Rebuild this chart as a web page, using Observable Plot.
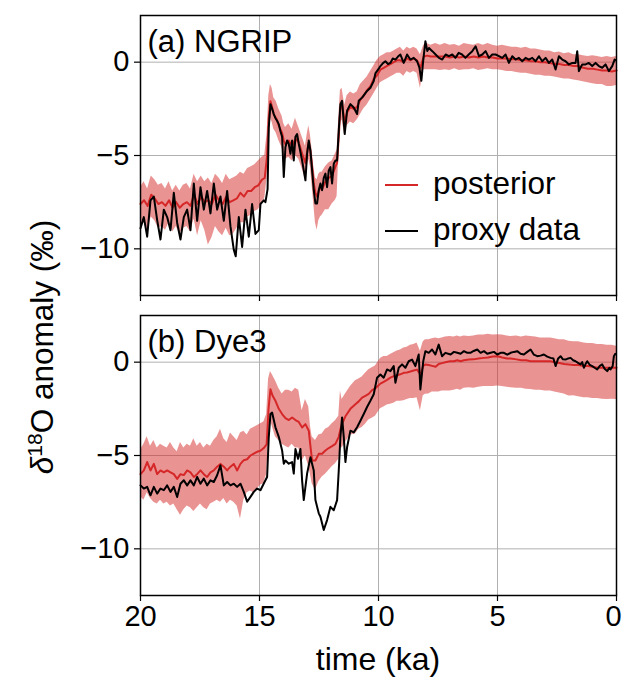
<!DOCTYPE html>
<html><head><meta charset="utf-8">
<script src="https://cdn.jsdelivr.net/npm/d3@7"></script>
<script src="https://cdn.jsdelivr.net/npm/@observablehq/plot@0.6"></script>
<style>
body{margin:0;background:#fff;}
#wrap{position:relative;width:622px;height:681px;font-family:"Liberation Sans",Arial,sans-serif;color:#000;overflow:hidden;}
#a{position:absolute;left:0;top:0}
#b{position:absolute;left:0;top:310px}
.lab{position:absolute;font-size:31.5px;line-height:32px;white-space:nowrap;}
.sw{position:absolute;height:2px;width:33px;}
</style></head><body>
<div id="wrap">
  <div id="a"></div><div id="b"></div>
  <div class="lab" id="ylab" style="left:42px;top:347px;transform:translate(-50%,-50%) rotate(-90deg);"><i>δ</i><sup style="font-size:21px;line-height:0;">18</sup>O anomaly (‰)</div>
  <div class="lab" id="xlab" style="left:378px;top:643px;transform:translateX(-50%);font-size:32px;">time (ka)</div>
  <div class="sw" style="left:385px;top:184px;background:#d62728;"></div>
  <div class="lab" style="left:433px;top:167px;">posterior</div>
  <div class="sw" style="left:385px;top:230px;background:#000;"></div>
  <div class="lab" style="left:433px;top:213px;">proxy data</div>
</div>
<script>
const xTicks = [20, 15, 10, 5, 0];
const yTicks = [-10, -5, 0];
const panelLabels = ["(a) NGRIP", "(b) Dye3"];

// NGRIP proxy data: [time ka, d18O anomaly]
const ngripProxy = [[20.0,-8.9],[19.86,-8.3],[19.72,-9.35],[19.58,-7.4],[19.44,-7.2],[19.3,-8.46],[19.16,-9.5],[19.02,-7.9],[18.88,-8.3],[18.74,-9.0],[18.6,-7.0],[18.46,-8.6],[18.32,-9.5],[18.18,-8.3],[18.04,-7.9],[17.9,-9.0],[17.76,-6.5],[17.62,-8.5],[17.48,-6.7],[17.34,-7.9],[17.2,-6.9],[17.06,-8.1],[16.92,-6.5],[16.78,-7.9],[16.64,-7.2],[16.5,-8.5],[16.36,-6.9],[16.22,-8.8],[16.08,-10.05],[16.0,-10.4],[15.87,-8.3],[15.73,-9.9],[15.59,-7.9],[15.45,-9.35],[15.31,-7.6],[15.17,-9.2],[15.03,-9.0],[14.96,-7.6],[14.82,-7.4],[14.75,-7.5],[14.66,-6.8],[14.61,-3.5],[14.54,-2.25],[14.47,-2.5],[14.40,-2.78],[14.33,-3.0],[14.26,-3.14],[14.19,-3.32],[14.12,-3.7],[14.05,-4.0],[13.98,-6.15],[13.91,-4.56],[13.84,-4.2],[13.77,-4.38],[13.70,-4.91],[13.63,-4.2],[13.56,-5.27],[13.49,-4.0],[13.42,-3.85],[13.35,-4.38],[13.21,-5.27],[13.14,-5.8],[13.07,-6.33],[13.0,-4.91],[12.93,-4.2],[12.86,-4.73],[12.79,-5.8],[12.72,-6.86],[12.65,-7.57],[12.58,-7.57],[12.51,-6.86],[12.44,-6.5],[12.37,-6.86],[12.30,-6.2],[12.23,-5.97],[12.16,-6.7],[12.09,-5.8],[12.02,-5.62],[11.95,-6.5],[11.88,-5.44],[11.81,-5.27],[11.74,-5.27],[11.67,-3.67],[11.6,-2.25],[11.53,-2.07],[11.42,-3.85],[11.32,-2.6],[11.18,-2.25],[11.04,-2.43],[10.9,-2.78],[10.83,-2.07],[10.69,-1.9],[10.48,-1.54],[10.34,-1.37],[10.2,-1.01],[10.13,-0.6],[9.99,-0.35],[9.92,-0.21],[9.81,-0.05],[9.71,0.05],[9.6,-0.1],[9.50,-0.04],[9.4,0.2],[9.29,0.14],[9.18,0.3],[9.08,0.41],[8.94,-0.04],[8.80,0.41],[8.66,0.14],[8.52,0.23],[8.38,0.05],[8.28,-0.3],[8.20,-1.0],[8.12,0.1],[8.03,1.12],[7.95,0.6],[7.88,0.76],[7.74,0.59],[7.6,0.41],[7.46,0.23],[7.32,0.14],[7.18,0.41],[7.04,0.32],[6.9,0.41],[6.77,0.23],[6.63,0.5],[6.49,0.41],[6.35,0.23],[6.21,0.41],[6.06,0.59],[5.92,0.85],[5.78,0.32],[5.64,0.41],[5.5,0.59],[5.36,0.23],[5.22,0.41],[5.08,0.41],[4.94,0.32],[4.8,0.23],[4.66,0.41],[4.52,-0.04],[4.38,0.32],[4.24,0.14],[4.1,0.23],[3.96,0.05],[3.82,0.23],[3.68,0.14],[3.54,0.23],[3.4,0.05],[3.26,0.32],[3.12,0.05],[2.98,0.23],[2.84,-0.04],[2.70,0.14],[2.56,-0.39],[2.42,0.32],[2.28,0.14],[2.14,0.05],[2.0,-0.12],[1.85,-0.04],[1.72,-0.04],[1.65,0.59],[1.58,-0.48],[1.44,-0.12],[1.30,-0.12],[1.16,-0.04],[1.02,-0.21],[0.88,-0.04],[0.74,-0.21],[0.6,-0.3],[0.46,-0.12],[0.32,-0.48],[0.18,-0.21],[0.08,0.14],[0.02,0.1]];

// NGRIP posterior: [time ka, mean, lower, upper]
const ngripPosterior = [[20.0,-7.6,-8.8,-6.7],[19.85,-7.4,-8.6,-6.4],[19.7,-7.7,-9.0,-6.8],[19.55,-7.1,-8.3,-6.1],[19.4,-7.3,-8.5,-6.3],[19.25,-7.6,-8.9,-6.6],[19.1,-7.5,-8.8,-6.5],[18.95,-7.7,-9.0,-6.8],[18.8,-7.4,-8.6,-6.4],[18.65,-7.8,-9.1,-6.9],[18.5,-7.5,-8.8,-6.6],[18.35,-7.8,-9.2,-6.9],[18.2,-7.6,-8.9,-6.6],[18.05,-7.5,-8.8,-6.5],[17.9,-7.7,-9.1,-6.8],[17.75,-7.1,-8.4,-6.0],[17.6,-7.6,-9.3,-6.4],[17.45,-7.2,-8.5,-6.1],[17.3,-7.5,-9.0,-6.4],[17.15,-7.4,-9.8,-6.2],[17.0,-7.6,-9.4,-6.5],[16.85,-7.1,-8.8,-6.0],[16.7,-7.4,-9.1,-6.2],[16.55,-7.6,-9.3,-6.5],[16.4,-7.2,-8.9,-6.0],[16.25,-7.5,-9.3,-6.3],[16.1,-7.4,-9.2,-6.2],[15.95,-7.3,-8.9,-6.1],[15.8,-7.0,-8.6,-5.9],[15.65,-7.2,-8.6,-6.0],[15.5,-6.9,-8.3,-5.7],[15.35,-6.9,-8.2,-5.6],[15.2,-6.7,-8.0,-5.5],[15.05,-6.6,-7.9,-5.3],[14.9,-6.3,-7.6,-5.1],[14.78,-6.2,-7.3,-5.0],[14.68,-5.0,-6.2,-3.8],[14.61,-3.0,-4.0,-1.8],[14.54,-2.1,-3.0,-1.2],[14.47,-2.4,-3.2,-1.4],[14.40,-2.8,-3.6,-1.9],[14.3,-3.0,-3.8,-2.1],[14.19,-3.4,-4.2,-2.5],[14.05,-3.8,-4.6,-2.9],[13.98,-4.2,-5.1,-3.3],[13.91,-4.4,-5.2,-3.5],[13.77,-4.2,-5.1,-3.3],[13.63,-4.5,-5.3,-3.6],[13.49,-4.1,-5.0,-3.0],[13.35,-4.3,-5.2,-3.5],[13.21,-4.9,-5.7,-4.0],[13.07,-5.4,-6.3,-4.5],[13.0,-4.8,-5.6,-3.9],[12.93,-4.3,-5.2,-3.4],[12.86,-4.8,-5.6,-3.9],[12.79,-5.6,-6.6,-4.7],[12.72,-6.5,-7.6,-5.6],[12.65,-7.0,-8.6,-6.2],[12.58,-7.2,-9.0,-6.3],[12.51,-6.9,-8.5,-6.0],[12.44,-6.7,-8.3,-5.9],[12.37,-6.8,-8.2,-5.9],[12.23,-6.4,-7.9,-5.6],[12.09,-6.2,-7.9,-5.4],[11.95,-6.1,-7.6,-5.3],[11.81,-5.6,-7.4,-4.9],[11.74,-5.4,-7.2,-4.7],[11.67,-4.0,-5.0,-3.0],[11.6,-2.4,-3.2,-1.5],[11.53,-2.3,-3.1,-1.4],[11.42,-3.2,-3.9,-2.3],[11.32,-2.7,-3.4,-1.8],[11.18,-2.4,-3.2,-1.6],[11.04,-2.5,-3.3,-1.7],[10.9,-2.4,-3.1,-1.6],[10.76,-2.0,-2.8,-1.2],[10.62,-1.8,-2.5,-1.0],[10.48,-1.5,-2.3,-0.8],[10.34,-1.3,-2.0,-0.5],[10.2,-0.9,-1.7,-0.2],[10.06,-0.7,-1.4,0.1],[9.92,-0.4,-1.1,0.3],[9.78,-0.3,-1.0,0.4],[9.64,-0.2,-0.9,0.5],[9.5,-0.1,-0.8,0.5],[9.36,0.0,-0.7,0.6],[9.22,0.1,-0.6,0.7],[9.08,0.1,-0.6,0.8],[8.94,0.0,-0.75,0.6],[8.8,0.2,-0.5,0.8],[8.66,0.1,-0.6,0.7],[8.52,0.2,-0.5,0.8],[8.38,0.1,-0.6,0.7],[8.24,-0.3,-1.4,0.4],[8.1,0.3,-0.4,0.9],[7.96,0.35,-0.4,1.0],[7.8,0.3,-0.4,0.9],[7.6,0.3,-0.4,1.0],[7.4,0.3,-0.45,0.9],[7.2,0.3,-0.4,1.0],[7.0,0.25,-0.45,0.9],[6.8,0.3,-0.35,0.95],[6.6,0.25,-0.45,0.85],[6.4,0.3,-0.4,1.0],[6.2,0.25,-0.4,0.95],[6.0,0.3,-0.35,0.9],[5.8,0.25,-0.45,1.0],[5.6,0.3,-0.4,0.9],[5.4,0.25,-0.35,1.0],[5.2,0.25,-0.4,0.9],[5.0,0.2,-0.4,0.85],[4.8,0.2,-0.45,0.9],[4.6,0.2,-0.5,0.85],[4.4,0.15,-0.5,0.8],[4.2,0.15,-0.55,0.8],[4.0,0.1,-0.6,0.75],[3.8,0.1,-0.6,0.8],[3.6,0.05,-0.65,0.7],[3.4,0.05,-0.7,0.7],[3.2,0.0,-0.7,0.65],[3.0,0.0,-0.75,0.6],[2.8,-0.05,-0.75,0.6],[2.6,-0.1,-0.8,0.5],[2.4,-0.1,-0.85,0.55],[2.2,-0.15,-0.9,0.45],[2.0,-0.15,-0.9,0.5],[1.8,-0.2,-0.95,0.4],[1.6,-0.2,-1.0,0.4],[1.4,-0.3,-1.05,0.35],[1.2,-0.35,-1.1,0.3],[1.0,-0.35,-1.15,0.35],[0.8,-0.4,-1.2,0.3],[0.6,-0.45,-1.2,0.25],[0.4,-0.45,-1.3,0.3],[0.2,-0.5,-1.3,0.25],[0.0,-0.45,-1.25,0.3]];

// Dye3 proxy data: [time ka, d18O anomaly]
const dye3Proxy = [[20.0,-6.6],[19.86,-6.77],[19.72,-6.68],[19.58,-7.13],[19.44,-6.68],[19.3,-7.04],[19.16,-6.77],[19.02,-6.86],[18.88,-6.6],[18.74,-6.95],[18.6,-6.68],[18.46,-7.22],[18.32,-6.51],[18.18,-6.33],[18.04,-6.6],[17.9,-6.33],[17.76,-6.6],[17.62,-6.15],[17.48,-6.51],[17.34,-6.24],[17.2,-6.6],[17.06,-6.33],[16.92,-6.42],[16.78,-6.06],[16.64,-5.53],[16.5,-6.6],[16.36,-6.42],[16.22,-6.6],[16.08,-6.51],[15.94,-6.68],[15.8,-6.51],[15.66,-6.95],[15.52,-7.48],[15.38,-7.22],[15.24,-6.95],[15.1,-6.77],[14.96,-6.86],[14.82,-6.5],[14.68,-6.15],[14.61,-4.0],[14.54,-2.78],[14.47,-2.7],[14.33,-3.49],[14.19,-4.0],[14.05,-4.73],[13.98,-5.44],[13.91,-5.27],[13.77,-5.44],[13.63,-5.35],[13.56,-5.97],[13.49,-4.65],[13.38,-5.18],[13.28,-4.65],[13.21,-6.33],[13.14,-7.39],[13.0,-5.97],[12.86,-5.09],[12.72,-5.8],[12.65,-7.39],[12.51,-8.1],[12.44,-8.28],[12.3,-8.99],[12.16,-8.46],[12.02,-7.75],[11.88,-7.93],[11.74,-7.39],[11.67,-5.8],[11.6,-4.0],[11.53,-2.96],[11.46,-4.0],[11.39,-5.35],[11.32,-4.56],[11.18,-3.67],[11.04,-3.76],[10.9,-3.49],[10.76,-3.14],[10.62,-2.78],[10.48,-2.4],[10.34,-2.07],[10.2,-1.72],[10.06,-0.83],[9.92,-0.66],[9.78,-0.83],[9.64,-0.39],[9.5,-0.48],[9.36,-0.21],[9.29,-1.1],[9.15,-0.3],[9.01,-0.12],[8.87,-0.3],[8.73,0.05],[8.59,0.14],[8.45,-0.21],[8.31,0.41],[8.24,-1.46],[8.12,0.05],[8.03,0.59],[7.89,0.5],[7.75,0.68],[7.61,0.41],[7.47,0.94],[7.33,0.32],[7.19,0.5],[6.97,0.41],[6.83,0.55],[6.69,0.5],[6.55,0.45],[6.41,0.59],[6.27,0.5],[6.14,0.5],[6.0,0.6],[5.85,0.68],[5.71,0.5],[5.57,0.59],[5.43,0.45],[5.29,0.5],[5.15,0.55],[5.01,0.41],[4.87,0.5],[4.73,0.5],[4.59,0.4],[4.45,0.5],[4.31,0.55],[4.17,0.59],[4.03,0.45],[3.89,0.41],[3.75,0.55],[3.61,0.68],[3.47,0.4],[3.33,0.32],[3.19,0.35],[3.05,0.41],[2.91,0.3],[2.77,0.23],[2.65,0.2],[2.56,-0.21],[2.45,0.2],[2.35,0.32],[2.25,0.15],[2.14,0.14],[2.03,0.2],[1.93,0.23],[1.82,0.1],[1.72,0.05],[1.6,-0.05],[1.51,-0.12],[1.44,0.0],[1.37,-0.3],[1.3,-0.1],[1.23,0.05],[1.12,-0.15],[1.02,-0.21],[0.92,-0.3],[0.81,-0.39],[0.7,-0.2],[0.6,-0.12],[0.5,-0.35],[0.39,-0.48],[0.3,-0.3],[0.25,-0.39],[0.16,-0.2],[0.11,0.32],[0.05,0.45]];

// Dye3 posterior: [time ka, mean, lower, upper]
const dye3Posterior = [[20.0,-6.0,-7.2,-4.7],[19.86,-5.8,-7.4,-4.4],[19.72,-5.35,-7.0,-4.0],[19.58,-5.8,-7.3,-4.5],[19.44,-5.45,-7.5,-4.2],[19.3,-6.0,-7.6,-4.6],[19.16,-5.8,-7.4,-4.4],[19.02,-5.9,-7.6,-4.5],[18.88,-5.8,-7.5,-4.6],[18.74,-5.9,-7.7,-4.3],[18.6,-6.0,-7.6,-4.6],[18.46,-6.25,-7.9,-4.8],[18.32,-6.0,-8.2,-4.3],[18.18,-6.05,-7.9,-4.6],[18.04,-5.8,-7.7,-4.4],[17.9,-5.9,-7.8,-4.5],[17.76,-6.15,-8.0,-4.1],[17.62,-6.0,-7.8,-4.5],[17.48,-5.8,-7.6,-4.3],[17.34,-6.0,-7.8,-4.6],[17.2,-6.15,-7.9,-4.4],[17.06,-5.9,-7.6,-4.5],[16.92,-5.8,-7.5,-4.2],[16.78,-5.6,-7.4,-4.0],[16.64,-5.45,-7.5,-3.6],[16.5,-5.6,-7.3,-4.1],[16.36,-5.8,-7.6,-4.3],[16.22,-5.6,-7.4,-3.8],[16.08,-5.45,-7.5,-4.0],[15.94,-5.8,-7.7,-4.2],[15.8,-5.45,-8.4,-3.8],[15.66,-5.25,-7.4,-3.7],[15.52,-5.2,-7.0,-3.9],[15.38,-5.0,-6.9,-3.6],[15.24,-4.9,-7.0,-3.5],[15.10,-4.8,-6.8,-3.4],[14.96,-4.75,-6.6,-3.3],[14.82,-4.6,-6.5,-3.2],[14.7,-4.4,-6.0,-2.8],[14.62,-2.5,-4.2,-0.9],[14.54,-1.45,-3.1,-0.5],[14.45,-1.8,-3.5,-0.7],[14.33,-2.07,-4.0,-1.0],[14.19,-2.5,-4.2,-1.4],[14.05,-2.78,-4.4,-1.7],[13.91,-3.0,-4.5,-1.5],[13.77,-3.1,-4.6,-1.5],[13.63,-2.96,-4.4,-1.6],[13.49,-3.1,-4.6,-1.4],[13.35,-3.2,-4.6,-1.5],[13.21,-3.5,-5.3,-2.6],[13.07,-3.32,-5.0,-2.0],[12.93,-3.67,-5.6,-2.4],[12.86,-4.5,-6.0,-3.4],[12.79,-5.27,-6.5,-4.0],[12.65,-5.27,-6.86,-4.2],[12.51,-4.91,-6.4,-3.9],[12.37,-4.91,-6.15,-3.85],[12.23,-4.73,-6.0,-3.6],[12.09,-4.6,-5.8,-3.5],[11.95,-4.5,-5.6,-3.3],[11.81,-4.38,-5.44,-3.14],[11.67,-4.0,-5.2,-2.9],[11.6,-3.6,-4.56,-1.54],[11.53,-3.3,-4.6,-2.0],[11.39,-2.9,-4.3,-1.7],[11.18,-2.5,-3.9,-1.3],[10.97,-2.25,-3.85,-1.0],[10.83,-2.1,-3.6,-0.9],[10.69,-1.9,-3.5,-0.8],[10.55,-1.8,-3.32,-0.6],[10.41,-1.7,-3.1,-0.4],[10.27,-1.5,-3.0,-0.3],[10.13,-1.4,-2.9,-0.2],[9.92,-1.15,-2.5,0.2],[9.78,-1.05,-2.4,0.3],[9.64,-0.95,-2.3,0.3],[9.5,-0.83,-2.25,0.41],[9.36,-0.75,-2.2,0.5],[9.22,-0.7,-2.1,0.6],[9.08,-0.65,-2.1,0.65],[8.94,-0.57,-2.07,0.76],[8.8,-0.55,-2.0,0.8],[8.66,-0.5,-1.95,0.9],[8.52,-0.45,-1.95,0.95],[8.38,-0.4,-1.9,1.03],[8.24,-0.66,-2.6,0.59],[8.12,-0.2,-1.8,1.1],[8.03,-0.12,-1.72,1.2],[7.89,-0.15,-1.7,1.2],[7.75,-0.2,-1.6,1.25],[7.6,-0.25,-1.6,1.3],[7.47,-0.1,-1.6,1.25],[7.33,-0.05,-1.55,1.3],[7.19,0.0,-1.55,1.35],[7.0,0.05,-1.54,1.38],[6.83,0.05,-1.5,1.35],[6.69,0.1,-1.45,1.4],[6.55,0.05,-1.5,1.35],[6.41,0.1,-1.4,1.4],[6.2,0.14,-1.37,1.38],[6.0,0.15,-1.4,1.4],[5.8,0.2,-1.35,1.45],[5.57,0.23,-1.3,1.45],[5.4,0.25,-1.3,1.5],[5.2,0.3,-1.3,1.45],[5.0,0.32,-1.28,1.47],[4.8,0.25,-1.3,1.45],[4.6,0.2,-1.35,1.4],[4.45,0.2,-1.37,1.38],[4.2,0.15,-1.4,1.4],[4.0,0.1,-1.4,1.35],[3.8,0.1,-1.45,1.4],[3.61,0.05,-1.46,1.38],[3.4,0.05,-1.5,1.35],[3.2,0.05,-1.5,1.3],[3.0,0.05,-1.55,1.3],[2.77,0.05,-1.54,1.29],[2.6,0.0,-1.6,1.25],[2.4,-0.05,-1.65,1.2],[2.2,-0.1,-1.7,1.2],[2.0,-0.12,-1.81,1.12],[1.8,-0.15,-1.8,1.1],[1.6,-0.15,-1.85,1.1],[1.37,-0.21,-1.9,1.03],[1.2,-0.2,-1.9,1.0],[1.0,-0.25,-1.95,1.0],[0.8,-0.3,-1.95,0.95],[0.6,-0.3,-1.98,0.94],[0.4,-0.3,-2.0,0.9],[0.2,-0.3,-1.98,0.9],[0.0,-0.3,-2.0,0.85]];

const RED = "#d62728";
const FONT = "'Liberation Sans', Arial, sans-serif";
const minus = d => (d < 0 ? "\u2212" + Math.abs(d) : String(d));

function panel(proxyRows, postRows, label, o) {
  const proxy = proxyRows.map(([t, v]) => ({t, v}));
  const post = postRows.map(([t, m, lo, hi]) => ({t, m, lo, hi}));
  const tickText = {x: d => d, text: d => String(d), frameAnchor: "bottom", lineAnchor: "top", dy: 10, fontSize: 29, fill: "black"};
  const marks = [
    Plot.gridX({ticks: xTicks, stroke: "#b0b0b0", strokeOpacity: 1, strokeWidth: 1}),
    Plot.gridY({ticks: yTicks, stroke: "#b0b0b0", strokeOpacity: 1, strokeWidth: 1}),
    Plot.areaY(post, {x: "t", y1: "lo", y2: "hi", fill: RED, fillOpacity: 0.5}),
    Plot.lineY(post, {x: "t", y: "m", stroke: RED, strokeWidth: 2}),
    Plot.lineY(proxy, {x: "t", y: "v", stroke: "black", strokeWidth: 2}),
    Plot.frame({stroke: "black", strokeWidth: 1.5}),
    Plot.axisY({ticks: yTicks, tickSize: 6, tickPadding: 5, tickFormat: minus, label: null, fontSize: 29, strokeWidth: 1.2}),
    Plot.axisX({ticks: xTicks, tickSize: 6, tickFormat: () => "", label: null, strokeWidth: 1.2}),
    Plot.text([label], {text: d => d, frameAnchor: "top-left", textAnchor: "start", lineAnchor: "top", dx: 7, dy: 14, fontSize: 31, fill: "black"})
  ];
  if (o.showX) {
    marks.push(Plot.text(xTicks.filter(d => d !== 0), tickText));
    marks.push(Plot.text(xTicks.filter(d => d === 0), {...tickText, dx: -3}));
  }
  return Plot.plot({
    width: 622, height: o.height,
    marginLeft: 140, marginRight: 6, marginTop: o.mt, marginBottom: o.mb,
    style: {fontFamily: FONT, fontSize: "29px", color: "black", background: "white", overflow: "visible"},
    x: {domain: [20, 0]},
    y: {domain: [-12.5, 2.5]},
    marks
  });
}

document.getElementById("a").append(panel(ngripProxy, ngripPosterior, panelLabels[0], {height: 310, mt: 15, mb: 15, showX: false}));
document.getElementById("b").append(panel(dye3Proxy, dye3Posterior, panelLabels[1], {height: 371, mt: 5, mb: 86, showX: true}));
</script>
</body></html>
